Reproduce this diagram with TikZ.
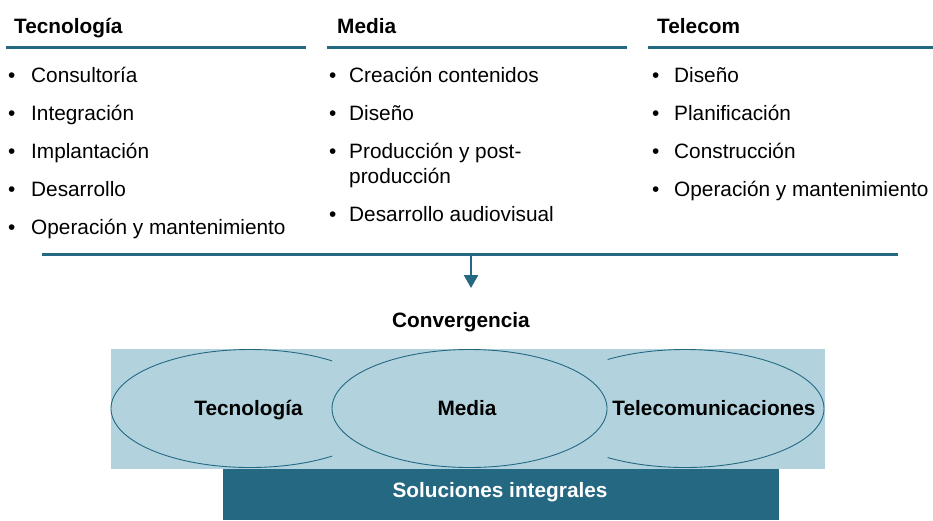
\documentclass[tikz,border=0pt]{standalone}
\usepackage{fontspec}
\setmainfont{Liberation Sans}
\usetikzlibrary{arrows.meta,shapes.geometric}
\definecolor{teal}{HTML}{246882}
\definecolor{lightb}{HTML}{B2D3DE}
\tikzset{
  txt/.style={anchor=base west, inner sep=0pt, font=\fontsize{20.8}{25}\selectfont},
  hdr/.style={anchor=base west, inner sep=0pt, font=\fontsize{20.8}{25}\selectfont\bfseries},
  bul/.style={anchor=base west, inner sep=0pt, font=\fontsize{20.8}{25}\selectfont},
  rule/.style={draw=teal, line width=3pt},
  oval/.style={ellipse, draw=teal, line width=0.9pt, minimum width=278pt, minimum height=118pt, inner sep=0pt},
  lbl/.style={anchor=base, inner sep=0pt, font=\fontsize{20.8}{25}\selectfont\bfseries},
}
\begin{document}
\begin{tikzpicture}[x=1pt,y=-1pt]
\useasboundingbox (0,0) rectangle (933,520);
% headers
\node[hdr] (h1) at (14,33) {Tecnología};
\node[hdr] (h2) at (337,33) {Media};
\node[hdr] (h3) at (657,33) {Telecom};
\coordinate (r1a) at (6,47.5); \coordinate (r1b) at (306,47.5);
\coordinate (r2a) at (327,47.5); \coordinate (r2b) at (627,47.5);
\coordinate (r3a) at (648,47.5); \coordinate (r3b) at (933,47.5);
\draw[rule] (r1a) -- (r1b);
\draw[rule] (r2a) -- (r2b);
\draw[rule] (r3a) -- (r3b);
% column 1
\foreach \y/\t [count=\i] in {82/Consultoría,120/Integración,158/Implantación,196/Desarrollo,234/Operación y mantenimiento}{
  \node[bul] (b1\i) at (8,\y) {•};
  \node[txt] (t1\i) at (31,\y) {\t};
}
% column 2
\node[bul] (b21) at (329,82) {•}; \node[txt] (t21) at (349,82) {Creación contenidos};
\node[bul] (b22) at (329,120) {•}; \node[txt] (t22) at (349,120) {Diseño};
\node[bul] (b23) at (329,158) {•}; \node[txt] (t23) at (349,158) {Producción y post-};
\node[txt] (t23b) at (349,183) {producción};
\node[bul] (b24) at (329,221) {•}; \node[txt] (t24) at (349,221) {Desarrollo audiovisual};
% column 3
\foreach \y/\t [count=\i] in {82/Diseño,120/Planificación,158/Construcción,196/Operación y mantenimiento}{
  \node[bul] (b3\i) at (652,\y) {•};
  \node[txt] (t3\i) at (674,\y) {\t};
}
% bottom rule and arrow
\coordinate (la) at (42,254); \coordinate (lb) at (898,254);
\draw[rule] (la) -- (lb);
\coordinate (as) at (471,254); \coordinate (ae) at (471,288);
\draw[draw=teal, line width=2.5pt, -{Triangle[width=14pt,length=13pt]}] (as) -- (ae);
\node[lbl] (conv) at (461,327) {Convergencia};
% convergence block
\fill[lightb] (111,349) rectangle (825,469);
\node[fill=teal, minimum width=556pt, minimum height=51pt, inner sep=0pt, anchor=north west] (sol) at (223,469) {};
\node[lbl, text=white] (soltxt) at (500,497) {Soluciones integrales};
\begin{scope}
  \clip (100,340) rectangle (332,480);
  \node[oval] (e1) at (250,408.5) {};
\end{scope}
\begin{scope}
  \clip (607.5,340) rectangle (840,480);
  \node[oval] (e3) at (685,408.5) {};
\end{scope}
\node[oval, minimum width=275pt] (e2) at (469.5,408.5) {};
\node[lbl] (l1) at (248.5,415) {Tecnología};
\node[lbl] (l2) at (467,415) {Media};
\node[lbl] (l3) at (714,415) {Telecomunicaciones};
\end{tikzpicture}
\end{document}
